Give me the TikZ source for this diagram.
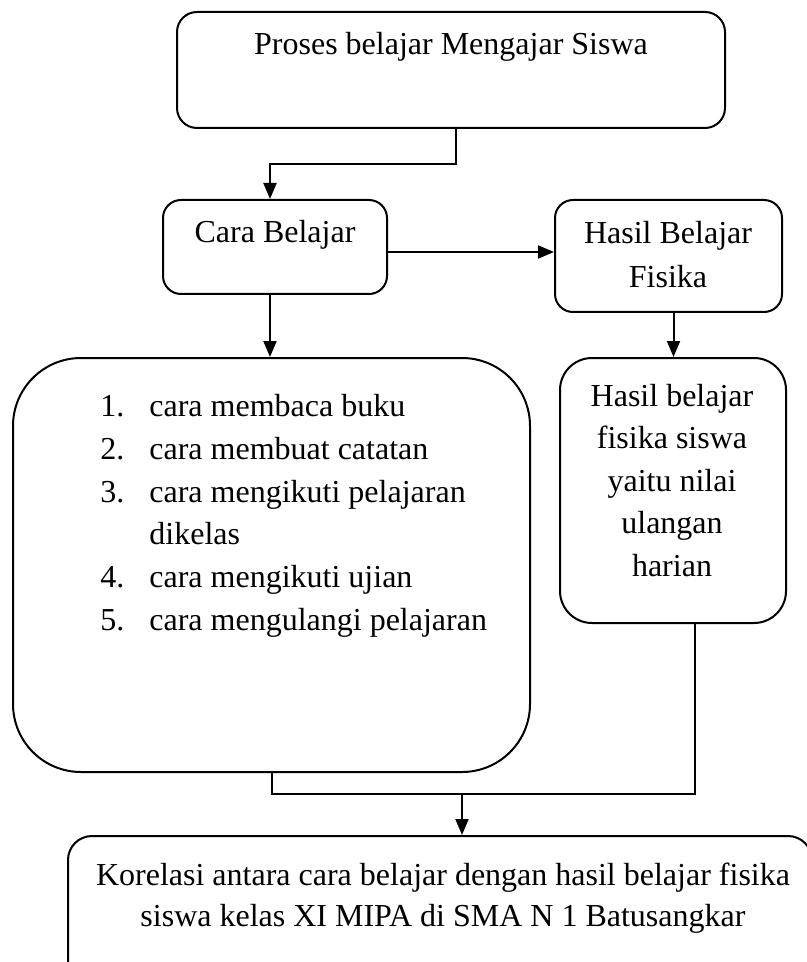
\documentclass[tikz,border=0pt]{standalone}
\usepackage{fontspec}
\setmainfont{Liberation Serif}
\usetikzlibrary{arrows.meta,fit}
\begin{document}
\begin{tikzpicture}[x = 0.5pt, y = -0.5pt,
	kotak/.style = {draw, line width = 1pt, inner sep = 0pt},
	garis/.style = {line width = 1pt},
	panah/.style = {line width = 1pt, -{Triangle[length = 8pt, width = 6.5pt]}},
	teks/.style = {font = \fontsize{16pt}{21.5pt}\selectfont, inner sep = 0pt}]
	\useasboundingbox (0,0) rectangle (807,962);
	\clip (0,0) rectangle (807,962);
	\node [kotak, rounded corners = 10pt, fit = {(177,12) (725,128)}] (proses) {};
	\node [kotak, rounded corners = 9pt, fit = {(163,200) (387,294)}] (cara) {};
	\node [kotak, rounded corners = 9pt, fit = {(555,200) (782,312)}] (hasil) {};
	\node [kotak, rounded corners = 34pt, fit = {(13,358) (530,772)}] (daftar) {};
	\node [kotak, rounded corners = 16pt, fit = {(560,358) (786,623)}] (nilai) {};
	\node [kotak, rounded corners = 12pt, fit = {(68,836) (812,985)}] (korelasi) {};
	\node [teks, anchor = base] (proses-teks) at (451,55) {Proses belajar Mengajar Siswa};
	\node [teks, anchor = base] (cara-teks) at (275,243) {Cara Belajar};
	\node [teks, align = center, anchor = base] (hasil-teks) at (668,287) {Hasil Belajar\\Fisika};
	\foreach \y/\n/\t [count = \i] in {416/1./cara membaca buku, 459/2./cara membuat catatan, 502/3./cara mengikuti pelajaran, 587/4./cara mengikuti ujian, 630/5./cara mengulangi pelajaran} {
		\node [teks, anchor = base west] (nomor-\i) at (100,\y) {\n};
		\node [teks, anchor = base west] (butir-\i) at (149,\y) {\t};
	}
	\node [teks, anchor = base west] (butir-lanjut) at (149,544) {dikelas};
	\node [teks, align = center, anchor = base, font = \fontsize{16pt}{21.2pt}\selectfont] (nilai-teks) at (672,576) {Hasil belajar\\fisika siswa\\yaitu nilai\\ulangan\\harian};
	\node [teks, align = center, anchor = base, font = \fontsize{16pt}{20.5pt}\selectfont] (korelasi-teks) at (443,926) {Korelasi antara cara belajar dengan hasil belajar fisika\\siswa kelas XI MIPA di SMA N 1 Batusangkar};
	\coordinate (gabung) at (462,794);
	\draw [panah] ([xshift = 2.5pt] proses.south) -- ++(0,35) -| ([xshift = -2.5pt] cara.north);
	\draw [panah] ([yshift = -2.5pt] cara.east) -- ([yshift = -2.5pt] cara.east -| hasil.west);
	\draw [panah] ([xshift = -2.5pt] cara.south) -- ([xshift = -2.5pt] cara.south |- daftar.north);
	\draw [panah] ([xshift = 2.5pt] hasil.south) -- ([xshift = 2.5pt] hasil.south |- nilai.north);
	\draw [garis] (daftar.south) |- (gabung) -| ([xshift = 11pt] nilai.south);
	\draw [panah] (gabung) -- (gabung |- korelasi.north);
\end{tikzpicture}
\end{document}
